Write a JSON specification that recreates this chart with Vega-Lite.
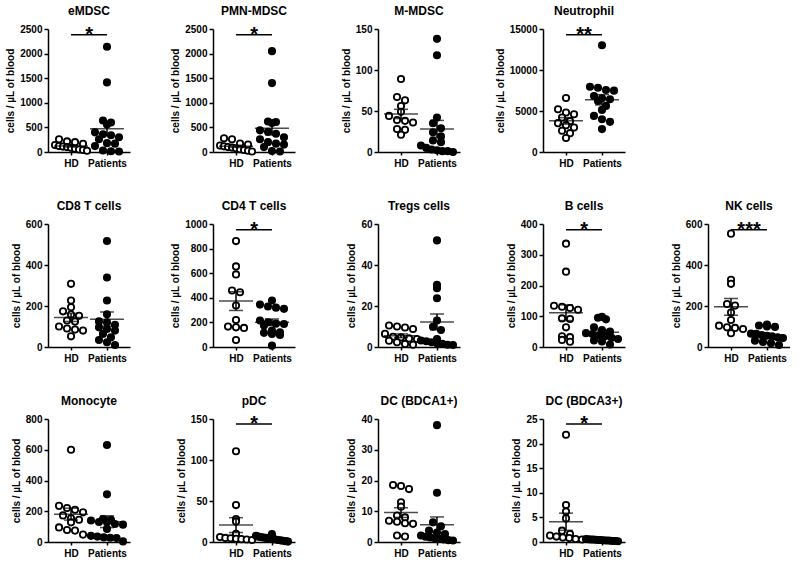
{
"$schema": "https://vega.github.io/schema/vega-lite/v6.json",
"padding": {"left": 5, "top": 5, "right": 0, "bottom": 0},
"bounds": "flush",
"columns": 5,
"spacing": {"row": 72, "column": 83},
"datasets": {
"rows": [
{"panel":"eMDSC","group":"HD","value":260},{"panel":"eMDSC","group":"HD","value":215},{"panel":"eMDSC","group":"HD","value":200},{"panel":"eMDSC","group":"HD","value":165},{"panel":"eMDSC","group":"HD","value":140},{"panel":"eMDSC","group":"HD","value":120},{"panel":"eMDSC","group":"HD","value":110},{"panel":"eMDSC","group":"HD","value":100},{"panel":"eMDSC","group":"HD","value":85},{"panel":"eMDSC","group":"HD","value":65},{"panel":"eMDSC","group":"HD","value":50},{"panel":"eMDSC","group":"HD","value":40},{"panel":"eMDSC","group":"HD","value":25},
{"panel":"eMDSC","group":"Patients","value":2140},{"panel":"eMDSC","group":"Patients","value":1415},{"panel":"eMDSC","group":"Patients","value":640},{"panel":"eMDSC","group":"Patients","value":600},{"panel":"eMDSC","group":"Patients","value":560},{"panel":"eMDSC","group":"Patients","value":400},{"panel":"eMDSC","group":"Patients","value":360},{"panel":"eMDSC","group":"Patients","value":340},{"panel":"eMDSC","group":"Patients","value":300},{"panel":"eMDSC","group":"Patients","value":260},{"panel":"eMDSC","group":"Patients","value":180},{"panel":"eMDSC","group":"Patients","value":170},{"panel":"eMDSC","group":"Patients","value":120},{"panel":"eMDSC","group":"Patients","value":30},{"panel":"eMDSC","group":"Patients","value":15},{"panel":"eMDSC","group":"Patients","value":10},
{"panel":"eMDSC","group":"HD","group2":"Patients","value":2385,"label":"*"},
{"panel":"PMN-MDSC","group":"HD","value":280},{"panel":"PMN-MDSC","group":"HD","value":260},{"panel":"PMN-MDSC","group":"HD","value":170},{"panel":"PMN-MDSC","group":"HD","value":150},{"panel":"PMN-MDSC","group":"HD","value":130},{"panel":"PMN-MDSC","group":"HD","value":115},{"panel":"PMN-MDSC","group":"HD","value":100},{"panel":"PMN-MDSC","group":"HD","value":90},{"panel":"PMN-MDSC","group":"HD","value":75},{"panel":"PMN-MDSC","group":"HD","value":55},{"panel":"PMN-MDSC","group":"HD","value":40},{"panel":"PMN-MDSC","group":"HD","value":25},{"panel":"PMN-MDSC","group":"HD","value":10},
{"panel":"PMN-MDSC","group":"Patients","value":2050},{"panel":"PMN-MDSC","group":"Patients","value":1400},{"panel":"PMN-MDSC","group":"Patients","value":620},{"panel":"PMN-MDSC","group":"Patients","value":610},{"panel":"PMN-MDSC","group":"Patients","value":590},{"panel":"PMN-MDSC","group":"Patients","value":440},{"panel":"PMN-MDSC","group":"Patients","value":410},{"panel":"PMN-MDSC","group":"Patients","value":370},{"panel":"PMN-MDSC","group":"Patients","value":300},{"panel":"PMN-MDSC","group":"Patients","value":260},{"panel":"PMN-MDSC","group":"Patients","value":200},{"panel":"PMN-MDSC","group":"Patients","value":170},{"panel":"PMN-MDSC","group":"Patients","value":150},{"panel":"PMN-MDSC","group":"Patients","value":100},{"panel":"PMN-MDSC","group":"Patients","value":20},{"panel":"PMN-MDSC","group":"Patients","value":10},
{"panel":"PMN-MDSC","group":"HD","group2":"Patients","value":2385,"label":"*"},
{"panel":"M-MDSC","group":"HD","value":89},{"panel":"M-MDSC","group":"HD","value":67},{"panel":"M-MDSC","group":"HD","value":63},{"panel":"M-MDSC","group":"HD","value":56},{"panel":"M-MDSC","group":"HD","value":49},{"panel":"M-MDSC","group":"HD","value":44},{"panel":"M-MDSC","group":"HD","value":39},{"panel":"M-MDSC","group":"HD","value":38},{"panel":"M-MDSC","group":"HD","value":36},{"panel":"M-MDSC","group":"HD","value":28},{"panel":"M-MDSC","group":"HD","value":27},{"panel":"M-MDSC","group":"HD","value":21},
{"panel":"M-MDSC","group":"Patients","value":138},{"panel":"M-MDSC","group":"Patients","value":118},{"panel":"M-MDSC","group":"Patients","value":42},{"panel":"M-MDSC","group":"Patients","value":35},{"panel":"M-MDSC","group":"Patients","value":29},{"panel":"M-MDSC","group":"Patients","value":24},{"panel":"M-MDSC","group":"Patients","value":19},{"panel":"M-MDSC","group":"Patients","value":14},{"panel":"M-MDSC","group":"Patients","value":12},{"panel":"M-MDSC","group":"Patients","value":8},{"panel":"M-MDSC","group":"Patients","value":5},{"panel":"M-MDSC","group":"Patients","value":3},{"panel":"M-MDSC","group":"Patients","value":2},{"panel":"M-MDSC","group":"Patients","value":1},{"panel":"M-MDSC","group":"Patients","value":1},{"panel":"M-MDSC","group":"Patients","value":0},
{"panel":"Neutrophil","group":"HD","value":6590},{"panel":"Neutrophil","group":"HD","value":5215},{"panel":"Neutrophil","group":"HD","value":4810},{"panel":"Neutrophil","group":"HD","value":4610},{"panel":"Neutrophil","group":"HD","value":4200},{"panel":"Neutrophil","group":"HD","value":3760},{"panel":"Neutrophil","group":"HD","value":3520},{"panel":"Neutrophil","group":"HD","value":3270},{"panel":"Neutrophil","group":"HD","value":2990},{"panel":"Neutrophil","group":"HD","value":2590},{"panel":"Neutrophil","group":"HD","value":2300},{"panel":"Neutrophil","group":"HD","value":1700},
{"panel":"Neutrophil","group":"Patients","value":13020},{"panel":"Neutrophil","group":"Patients","value":7965},{"panel":"Neutrophil","group":"Patients","value":7840},{"panel":"Neutrophil","group":"Patients","value":7560},{"panel":"Neutrophil","group":"Patients","value":7480},{"panel":"Neutrophil","group":"Patients","value":6830},{"panel":"Neutrophil","group":"Patients","value":6550},{"panel":"Neutrophil","group":"Patients","value":6430},{"panel":"Neutrophil","group":"Patients","value":6230},{"panel":"Neutrophil","group":"Patients","value":5620},{"panel":"Neutrophil","group":"Patients","value":5130},{"panel":"Neutrophil","group":"Patients","value":4400},{"panel":"Neutrophil","group":"Patients","value":4000},{"panel":"Neutrophil","group":"Patients","value":3680},{"panel":"Neutrophil","group":"Patients","value":2790},
{"panel":"Neutrophil","group":"HD","group2":"Patients","value":14300,"label":"**"},
{"panel":"CD8 T cells","group":"HD","value":308},{"panel":"CD8 T cells","group":"HD","value":227},{"panel":"CD8 T cells","group":"HD","value":194},{"panel":"CD8 T cells","group":"HD","value":174},{"panel":"CD8 T cells","group":"HD","value":158},{"panel":"CD8 T cells","group":"HD","value":152},{"panel":"CD8 T cells","group":"HD","value":129},{"panel":"CD8 T cells","group":"HD","value":124},{"panel":"CD8 T cells","group":"HD","value":100},{"panel":"CD8 T cells","group":"HD","value":90},{"panel":"CD8 T cells","group":"HD","value":85},{"panel":"CD8 T cells","group":"HD","value":80},{"panel":"CD8 T cells","group":"HD","value":52},
{"panel":"CD8 T cells","group":"Patients","value":517},{"panel":"CD8 T cells","group":"Patients","value":339},{"panel":"CD8 T cells","group":"Patients","value":227},{"panel":"CD8 T cells","group":"Patients","value":160},{"panel":"CD8 T cells","group":"Patients","value":125},{"panel":"CD8 T cells","group":"Patients","value":120},{"panel":"CD8 T cells","group":"Patients","value":108},{"panel":"CD8 T cells","group":"Patients","value":96},{"panel":"CD8 T cells","group":"Patients","value":88},{"panel":"CD8 T cells","group":"Patients","value":80},{"panel":"CD8 T cells","group":"Patients","value":64},{"panel":"CD8 T cells","group":"Patients","value":47},{"panel":"CD8 T cells","group":"Patients","value":34},{"panel":"CD8 T cells","group":"Patients","value":23},{"panel":"CD8 T cells","group":"Patients","value":10},
{"panel":"CD4 T cells","group":"HD","value":861},{"panel":"CD4 T cells","group":"HD","value":655},{"panel":"CD4 T cells","group":"HD","value":590},{"panel":"CD4 T cells","group":"HD","value":459},{"panel":"CD4 T cells","group":"HD","value":445},{"panel":"CD4 T cells","group":"HD","value":337},{"panel":"CD4 T cells","group":"HD","value":220},{"panel":"CD4 T cells","group":"HD","value":166},{"panel":"CD4 T cells","group":"HD","value":160},{"panel":"CD4 T cells","group":"HD","value":155},{"panel":"CD4 T cells","group":"HD","value":57},
{"panel":"CD4 T cells","group":"Patients","value":378},{"panel":"CD4 T cells","group":"Patients","value":345},{"panel":"CD4 T cells","group":"Patients","value":329},{"panel":"CD4 T cells","group":"Patients","value":320},{"panel":"CD4 T cells","group":"Patients","value":310},{"panel":"CD4 T cells","group":"Patients","value":215},{"panel":"CD4 T cells","group":"Patients","value":201},{"panel":"CD4 T cells","group":"Patients","value":190},{"panel":"CD4 T cells","group":"Patients","value":187},{"panel":"CD4 T cells","group":"Patients","value":174},{"panel":"CD4 T cells","group":"Patients","value":133},{"panel":"CD4 T cells","group":"Patients","value":120},{"panel":"CD4 T cells","group":"Patients","value":115},{"panel":"CD4 T cells","group":"Patients","value":106},{"panel":"CD4 T cells","group":"Patients","value":98},{"panel":"CD4 T cells","group":"Patients","value":11},
{"panel":"CD4 T cells","group":"HD","group2":"Patients","value":954,"label":"*"},
{"panel":"Tregs cells","group":"HD","value":10.5},{"panel":"Tregs cells","group":"HD","value":10},{"panel":"Tregs cells","group":"HD","value":9.5},{"panel":"Tregs cells","group":"HD","value":8.8},{"panel":"Tregs cells","group":"HD","value":6.4},{"panel":"Tregs cells","group":"HD","value":5},{"panel":"Tregs cells","group":"HD","value":4.7},{"panel":"Tregs cells","group":"HD","value":4.2},{"panel":"Tregs cells","group":"HD","value":3.9},{"panel":"Tregs cells","group":"HD","value":3.1},{"panel":"Tregs cells","group":"HD","value":2.3},{"panel":"Tregs cells","group":"HD","value":1.5},{"panel":"Tregs cells","group":"HD","value":1.1},
{"panel":"Tregs cells","group":"Patients","value":52},{"panel":"Tregs cells","group":"Patients","value":30.3},{"panel":"Tregs cells","group":"Patients","value":28.7},{"panel":"Tregs cells","group":"Patients","value":23.8},{"panel":"Tregs cells","group":"Patients","value":12.9},{"panel":"Tregs cells","group":"Patients","value":9.9},{"panel":"Tregs cells","group":"Patients","value":8.3},{"panel":"Tregs cells","group":"Patients","value":3.9},{"panel":"Tregs cells","group":"Patients","value":3.2},{"panel":"Tregs cells","group":"Patients","value":2.8},{"panel":"Tregs cells","group":"Patients","value":2.3},{"panel":"Tregs cells","group":"Patients","value":1.8},{"panel":"Tregs cells","group":"Patients","value":1.5},{"panel":"Tregs cells","group":"Patients","value":1.1},{"panel":"Tregs cells","group":"Patients","value":1.0},
{"panel":"B cells","group":"HD","value":336},{"panel":"B cells","group":"HD","value":245},{"panel":"B cells","group":"HD","value":134},{"panel":"B cells","group":"HD","value":131},{"panel":"B cells","group":"HD","value":127},{"panel":"B cells","group":"HD","value":121},{"panel":"B cells","group":"HD","value":93},{"panel":"B cells","group":"HD","value":91},{"panel":"B cells","group":"HD","value":64},{"panel":"B cells","group":"HD","value":35},{"panel":"B cells","group":"HD","value":32},{"panel":"B cells","group":"HD","value":23},{"panel":"B cells","group":"HD","value":17},
{"panel":"B cells","group":"Patients","value":98},{"panel":"B cells","group":"Patients","value":95},{"panel":"B cells","group":"Patients","value":90},{"panel":"B cells","group":"Patients","value":64},{"panel":"B cells","group":"Patients","value":55},{"panel":"B cells","group":"Patients","value":50},{"panel":"B cells","group":"Patients","value":45},{"panel":"B cells","group":"Patients","value":42},{"panel":"B cells","group":"Patients","value":38},{"panel":"B cells","group":"Patients","value":35},{"panel":"B cells","group":"Patients","value":30},{"panel":"B cells","group":"Patients","value":26},{"panel":"B cells","group":"Patients","value":21},{"panel":"B cells","group":"Patients","value":18},{"panel":"B cells","group":"Patients","value":8},
{"panel":"B cells","group":"HD","group2":"Patients","value":381,"label":"*"},
{"panel":"NK cells","group":"HD","value":553},{"panel":"NK cells","group":"HD","value":328},{"panel":"NK cells","group":"HD","value":308},{"panel":"NK cells","group":"HD","value":210},{"panel":"NK cells","group":"HD","value":202},{"panel":"NK cells","group":"HD","value":168},{"panel":"NK cells","group":"HD","value":132},{"panel":"NK cells","group":"HD","value":104},{"panel":"NK cells","group":"HD","value":96},{"panel":"NK cells","group":"HD","value":93},{"panel":"NK cells","group":"HD","value":88},{"panel":"NK cells","group":"HD","value":67},
{"panel":"NK cells","group":"Patients","value":110},{"panel":"NK cells","group":"Patients","value":105},{"panel":"NK cells","group":"Patients","value":100},{"panel":"NK cells","group":"Patients","value":98},{"panel":"NK cells","group":"Patients","value":65},{"panel":"NK cells","group":"Patients","value":64},{"panel":"NK cells","group":"Patients","value":58},{"panel":"NK cells","group":"Patients","value":55},{"panel":"NK cells","group":"Patients","value":51},{"panel":"NK cells","group":"Patients","value":47},{"panel":"NK cells","group":"Patients","value":44},{"panel":"NK cells","group":"Patients","value":31},{"panel":"NK cells","group":"Patients","value":25},{"panel":"NK cells","group":"Patients","value":18},{"panel":"NK cells","group":"Patients","value":10},
{"panel":"NK cells","group":"HD","group2":"Patients","value":572,"label":"***"},
{"panel":"Monocyte","group":"HD","value":600},{"panel":"Monocyte","group":"HD","value":235},{"panel":"Monocyte","group":"HD","value":221},{"panel":"Monocyte","group":"HD","value":210},{"panel":"Monocyte","group":"HD","value":193},{"panel":"Monocyte","group":"HD","value":173},{"panel":"Monocyte","group":"HD","value":154},{"panel":"Monocyte","group":"HD","value":145},{"panel":"Monocyte","group":"HD","value":128},{"panel":"Monocyte","group":"HD","value":95},{"panel":"Monocyte","group":"HD","value":78},{"panel":"Monocyte","group":"HD","value":74},{"panel":"Monocyte","group":"HD","value":48},
{"panel":"Monocyte","group":"Patients","value":631},{"panel":"Monocyte","group":"Patients","value":310},{"panel":"Monocyte","group":"Patients","value":150},{"panel":"Monocyte","group":"Patients","value":145},{"panel":"Monocyte","group":"Patients","value":140},{"panel":"Monocyte","group":"Patients","value":130},{"panel":"Monocyte","group":"Patients","value":128},{"panel":"Monocyte","group":"Patients","value":117},{"panel":"Monocyte","group":"Patients","value":113},{"panel":"Monocyte","group":"Patients","value":85},{"panel":"Monocyte","group":"Patients","value":40},{"panel":"Monocyte","group":"Patients","value":35},{"panel":"Monocyte","group":"Patients","value":30},{"panel":"Monocyte","group":"Patients","value":28},{"panel":"Monocyte","group":"Patients","value":26},{"panel":"Monocyte","group":"Patients","value":4},
{"panel":"pDC","group":"HD","value":110.6},{"panel":"pDC","group":"HD","value":45},{"panel":"pDC","group":"HD","value":28},{"panel":"pDC","group":"HD","value":25},{"panel":"pDC","group":"HD","value":10},{"panel":"pDC","group":"HD","value":6},{"panel":"pDC","group":"HD","value":5},{"panel":"pDC","group":"HD","value":4.5},{"panel":"pDC","group":"HD","value":4},{"panel":"pDC","group":"HD","value":3.5},{"panel":"pDC","group":"HD","value":3},{"panel":"pDC","group":"HD","value":2.5},
{"panel":"pDC","group":"Patients","value":9.8},{"panel":"pDC","group":"Patients","value":7.5},{"panel":"pDC","group":"Patients","value":6.5},{"panel":"pDC","group":"Patients","value":6},{"panel":"pDC","group":"Patients","value":5.5},{"panel":"pDC","group":"Patients","value":5},{"panel":"pDC","group":"Patients","value":4.5},{"panel":"pDC","group":"Patients","value":4},{"panel":"pDC","group":"Patients","value":3.5},{"panel":"pDC","group":"Patients","value":3},{"panel":"pDC","group":"Patients","value":2.5},{"panel":"pDC","group":"Patients","value":2},{"panel":"pDC","group":"Patients","value":1.5},{"panel":"pDC","group":"Patients","value":1},{"panel":"pDC","group":"Patients","value":0.5},
{"panel":"pDC","group":"HD","group2":"Patients","value":144,"label":"*"},
{"panel":"DC (BDCA1+)","group":"HD","value":18.5},{"panel":"DC (BDCA1+)","group":"HD","value":18.2},{"panel":"DC (BDCA1+)","group":"HD","value":17.2},{"panel":"DC (BDCA1+)","group":"HD","value":12.9},{"panel":"DC (BDCA1+)","group":"HD","value":11.5},{"panel":"DC (BDCA1+)","group":"HD","value":8.6},{"panel":"DC (BDCA1+)","group":"HD","value":8.0},{"panel":"DC (BDCA1+)","group":"HD","value":6.9},{"panel":"DC (BDCA1+)","group":"HD","value":6.6},{"panel":"DC (BDCA1+)","group":"HD","value":6.1},{"panel":"DC (BDCA1+)","group":"HD","value":5.9},{"panel":"DC (BDCA1+)","group":"HD","value":2.1},{"panel":"DC (BDCA1+)","group":"HD","value":1.8},
{"panel":"DC (BDCA1+)","group":"Patients","value":38},{"panel":"DC (BDCA1+)","group":"Patients","value":16},{"panel":"DC (BDCA1+)","group":"Patients","value":6.4},{"panel":"DC (BDCA1+)","group":"Patients","value":5.1},{"panel":"DC (BDCA1+)","group":"Patients","value":3.7},{"panel":"DC (BDCA1+)","group":"Patients","value":3.1},{"panel":"DC (BDCA1+)","group":"Patients","value":2.6},{"panel":"DC (BDCA1+)","group":"Patients","value":2.1},{"panel":"DC (BDCA1+)","group":"Patients","value":1.7},{"panel":"DC (BDCA1+)","group":"Patients","value":1.5},{"panel":"DC (BDCA1+)","group":"Patients","value":1.2},{"panel":"DC (BDCA1+)","group":"Patients","value":1.0},{"panel":"DC (BDCA1+)","group":"Patients","value":0.8},{"panel":"DC (BDCA1+)","group":"Patients","value":0.6},{"panel":"DC (BDCA1+)","group":"Patients","value":0.5},
{"panel":"DC (BDCA3+)","group":"HD","value":21.8},{"panel":"DC (BDCA3+)","group":"HD","value":7.5},{"panel":"DC (BDCA3+)","group":"HD","value":6.2},{"panel":"DC (BDCA3+)","group":"HD","value":4.8},{"panel":"DC (BDCA3+)","group":"HD","value":2.3},{"panel":"DC (BDCA3+)","group":"HD","value":1.6},{"panel":"DC (BDCA3+)","group":"HD","value":1.3},{"panel":"DC (BDCA3+)","group":"HD","value":1.1},{"panel":"DC (BDCA3+)","group":"HD","value":0.9},{"panel":"DC (BDCA3+)","group":"HD","value":0.8},{"panel":"DC (BDCA3+)","group":"HD","value":0.6},{"panel":"DC (BDCA3+)","group":"HD","value":0.5},
{"panel":"DC (BDCA3+)","group":"Patients","value":0.6},{"panel":"DC (BDCA3+)","group":"Patients","value":0.55},{"panel":"DC (BDCA3+)","group":"Patients","value":0.5},{"panel":"DC (BDCA3+)","group":"Patients","value":0.5},{"panel":"DC (BDCA3+)","group":"Patients","value":0.45},{"panel":"DC (BDCA3+)","group":"Patients","value":0.4},{"panel":"DC (BDCA3+)","group":"Patients","value":0.4},{"panel":"DC (BDCA3+)","group":"Patients","value":0.35},{"panel":"DC (BDCA3+)","group":"Patients","value":0.3},{"panel":"DC (BDCA3+)","group":"Patients","value":0.3},{"panel":"DC (BDCA3+)","group":"Patients","value":0.25},{"panel":"DC (BDCA3+)","group":"Patients","value":0.2},{"panel":"DC (BDCA3+)","group":"Patients","value":0.2},{"panel":"DC (BDCA3+)","group":"Patients","value":0.15},
{"panel":"DC (BDCA3+)","group":"HD","group2":"Patients","value":24,"label":"*"}
]
},
"concat": [
{"title":"eMDSC","width":82,"height":123,"data":{"name":"rows"},"transform":[{"filter":{"field":"panel","equal":"eMDSC"}}],
 "encoding":{"x":{"field":"group","type":"nominal","scale":{"type":"point","domain":["HD","Patients"],"padding":0.64},"title":null},"y":{"field":"value","type":"quantitative","scale":{"domain":[0,2500]},"axis":{"values":[0,500,1000,1500,2000,2500]},"title":"cells / µL of blood"}},
 "layer":[
  {"transform":[{"filter":"!datum.label"},{"calculate":"floor(datum.value / 150)","as":"b"},{"window":[{"op":"row_number","as":"rn"},{"op":"count","as":"cnt"}],"groupby":["group","b"],"frame":[null,null]},{"calculate":"(datum.rn - (datum.cnt + 1) / 2) * min(8, 32 / max(datum.cnt - 1, 1))","as":"off"}],"mark":{"type":"circle","size":40,"stroke":"black","strokeWidth":1.8,"opacity":1},"encoding":{"xOffset":{"field":"off","type":"quantitative","scale":null},"fill":{"field":"group","type":"nominal","scale":{"domain":["HD","Patients"],"range":["white","black"]},"legend":null}}},
  {"transform":[{"filter":"!datum.label"},{"aggregate":[{"op":"mean","field":"value","as":"value"}],"groupby":["group"]}],"mark":{"type":"tick","color":"black","thickness":1.5,"size":34}},
  {"transform":[{"filter":"!datum.label"}],"mark":{"type":"errorbar","extent":"stderr","color":"black","thickness":1.5,"ticks":{"size":14}}},
  {"transform":[{"filter":"datum.label"}],"mark":{"type":"rule","color":"black","strokeWidth":1.5},"encoding":{"x2":{"field":"group2"}}},
  {"transform":[{"filter":"datum.label"}],"mark":{"type":"text","dx":18,"dy":6,"fontSize":20,"fontWeight":"bold","baseline":"alphabetic","color":"black","font":"Liberation Sans"},"encoding":{"text":{"field":"label"}}}
 ]},
{"title":"PMN-MDSC","width":82,"height":123,"data":{"name":"rows"},"transform":[{"filter":{"field":"panel","equal":"PMN-MDSC"}}],
 "encoding":{"x":{"field":"group","type":"nominal","scale":{"type":"point","domain":["HD","Patients"],"padding":0.64},"title":null},"y":{"field":"value","type":"quantitative","scale":{"domain":[0,2500]},"axis":{"values":[0,500,1000,1500,2000,2500]},"title":"cells / µL of blood"}},
 "layer":[
  {"transform":[{"filter":"!datum.label"},{"calculate":"floor(datum.value / 150)","as":"b"},{"window":[{"op":"row_number","as":"rn"},{"op":"count","as":"cnt"}],"groupby":["group","b"],"frame":[null,null]},{"calculate":"(datum.rn - (datum.cnt + 1) / 2) * min(8, 32 / max(datum.cnt - 1, 1))","as":"off"}],"mark":{"type":"circle","size":40,"stroke":"black","strokeWidth":1.8,"opacity":1},"encoding":{"xOffset":{"field":"off","type":"quantitative","scale":null},"fill":{"field":"group","type":"nominal","scale":{"domain":["HD","Patients"],"range":["white","black"]},"legend":null}}},
  {"transform":[{"filter":"!datum.label"},{"aggregate":[{"op":"mean","field":"value","as":"value"}],"groupby":["group"]}],"mark":{"type":"tick","color":"black","thickness":1.5,"size":34}},
  {"transform":[{"filter":"!datum.label"}],"mark":{"type":"errorbar","extent":"stderr","color":"black","thickness":1.5,"ticks":{"size":14}}},
  {"transform":[{"filter":"datum.label"}],"mark":{"type":"rule","color":"black","strokeWidth":1.5},"encoding":{"x2":{"field":"group2"}}},
  {"transform":[{"filter":"datum.label"}],"mark":{"type":"text","dx":18,"dy":6,"fontSize":20,"fontWeight":"bold","baseline":"alphabetic","color":"black","font":"Liberation Sans"},"encoding":{"text":{"field":"label"}}}
 ]},
{"title":"M-MDSC","width":82,"height":123,"data":{"name":"rows"},"transform":[{"filter":{"field":"panel","equal":"M-MDSC"}}],
 "encoding":{"x":{"field":"group","type":"nominal","scale":{"type":"point","domain":["HD","Patients"],"padding":0.64},"title":null},"y":{"field":"value","type":"quantitative","scale":{"domain":[0,150]},"axis":{"values":[0,50,100,150]},"title":"cells / µL of blood"}},
 "layer":[
  {"transform":[{"filter":"!datum.label"},{"calculate":"floor(datum.value / 9)","as":"b"},{"window":[{"op":"row_number","as":"rn"},{"op":"count","as":"cnt"}],"groupby":["group","b"],"frame":[null,null]},{"calculate":"(datum.rn - (datum.cnt + 1) / 2) * min(8, 32 / max(datum.cnt - 1, 1))","as":"off"}],"mark":{"type":"circle","size":40,"stroke":"black","strokeWidth":1.8,"opacity":1},"encoding":{"xOffset":{"field":"off","type":"quantitative","scale":null},"fill":{"field":"group","type":"nominal","scale":{"domain":["HD","Patients"],"range":["white","black"]},"legend":null}}},
  {"transform":[{"filter":"!datum.label"},{"aggregate":[{"op":"mean","field":"value","as":"value"}],"groupby":["group"]}],"mark":{"type":"tick","color":"black","thickness":1.5,"size":34}},
  {"transform":[{"filter":"!datum.label"}],"mark":{"type":"errorbar","extent":"stderr","color":"black","thickness":1.5,"ticks":{"size":14}}}
 ]},
{"title":"Neutrophil","width":82,"height":123,"data":{"name":"rows"},"transform":[{"filter":{"field":"panel","equal":"Neutrophil"}}],
 "encoding":{"x":{"field":"group","type":"nominal","scale":{"type":"point","domain":["HD","Patients"],"padding":0.64},"title":null},"y":{"field":"value","type":"quantitative","scale":{"domain":[0,15000]},"axis":{"values":[0,5000,10000,15000]},"title":"cells / µL of blood"}},
 "layer":[
  {"transform":[{"filter":"!datum.label"},{"calculate":"floor(datum.value / 900)","as":"b"},{"window":[{"op":"row_number","as":"rn"},{"op":"count","as":"cnt"}],"groupby":["group","b"],"frame":[null,null]},{"calculate":"(datum.rn - (datum.cnt + 1) / 2) * min(8, 32 / max(datum.cnt - 1, 1))","as":"off"}],"mark":{"type":"circle","size":40,"stroke":"black","strokeWidth":1.8,"opacity":1},"encoding":{"xOffset":{"field":"off","type":"quantitative","scale":null},"fill":{"field":"group","type":"nominal","scale":{"domain":["HD","Patients"],"range":["white","black"]},"legend":null}}},
  {"transform":[{"filter":"!datum.label"},{"aggregate":[{"op":"mean","field":"value","as":"value"}],"groupby":["group"]}],"mark":{"type":"tick","color":"black","thickness":1.5,"size":34}},
  {"transform":[{"filter":"!datum.label"}],"mark":{"type":"errorbar","extent":"stderr","color":"black","thickness":1.5,"ticks":{"size":14}}},
  {"transform":[{"filter":"datum.label"}],"mark":{"type":"rule","color":"black","strokeWidth":1.5},"encoding":{"x2":{"field":"group2"}}},
  {"transform":[{"filter":"datum.label"}],"mark":{"type":"text","dx":18,"dy":6,"fontSize":20,"fontWeight":"bold","baseline":"alphabetic","color":"black","font":"Liberation Sans"},"encoding":{"text":{"field":"label"}}}
 ]},
{"width":82,"height":123,"data":{"values":[]},"mark":"point","encoding":{}},
{"title":"CD8 T cells","width":82,"height":123,"data":{"name":"rows"},"transform":[{"filter":{"field":"panel","equal":"CD8 T cells"}}],
 "encoding":{"x":{"field":"group","type":"nominal","scale":{"type":"point","domain":["HD","Patients"],"padding":0.64},"title":null},"y":{"field":"value","type":"quantitative","scale":{"domain":[0,600]},"axis":{"values":[0,200,400,600]},"title":"cells / µL of blood"}},
 "layer":[
  {"transform":[{"filter":"!datum.label"},{"calculate":"floor(datum.value / 36)","as":"b"},{"window":[{"op":"row_number","as":"rn"},{"op":"count","as":"cnt"}],"groupby":["group","b"],"frame":[null,null]},{"calculate":"(datum.rn - (datum.cnt + 1) / 2) * min(8, 32 / max(datum.cnt - 1, 1))","as":"off"}],"mark":{"type":"circle","size":40,"stroke":"black","strokeWidth":1.8,"opacity":1},"encoding":{"xOffset":{"field":"off","type":"quantitative","scale":null},"fill":{"field":"group","type":"nominal","scale":{"domain":["HD","Patients"],"range":["white","black"]},"legend":null}}},
  {"transform":[{"filter":"!datum.label"},{"aggregate":[{"op":"mean","field":"value","as":"value"}],"groupby":["group"]}],"mark":{"type":"tick","color":"black","thickness":1.5,"size":34}},
  {"transform":[{"filter":"!datum.label"}],"mark":{"type":"errorbar","extent":"stderr","color":"black","thickness":1.5,"ticks":{"size":14}}}
 ]},
{"title":"CD4 T cells","width":82,"height":123,"data":{"name":"rows"},"transform":[{"filter":{"field":"panel","equal":"CD4 T cells"}}],
 "encoding":{"x":{"field":"group","type":"nominal","scale":{"type":"point","domain":["HD","Patients"],"padding":0.64},"title":null},"y":{"field":"value","type":"quantitative","scale":{"domain":[0,1000]},"axis":{"values":[0,200,400,600,800,1000]},"title":"cells / µL of blood"}},
 "layer":[
  {"transform":[{"filter":"!datum.label"},{"calculate":"floor(datum.value / 60)","as":"b"},{"window":[{"op":"row_number","as":"rn"},{"op":"count","as":"cnt"}],"groupby":["group","b"],"frame":[null,null]},{"calculate":"(datum.rn - (datum.cnt + 1) / 2) * min(8, 32 / max(datum.cnt - 1, 1))","as":"off"}],"mark":{"type":"circle","size":40,"stroke":"black","strokeWidth":1.8,"opacity":1},"encoding":{"xOffset":{"field":"off","type":"quantitative","scale":null},"fill":{"field":"group","type":"nominal","scale":{"domain":["HD","Patients"],"range":["white","black"]},"legend":null}}},
  {"transform":[{"filter":"!datum.label"},{"aggregate":[{"op":"mean","field":"value","as":"value"}],"groupby":["group"]}],"mark":{"type":"tick","color":"black","thickness":1.5,"size":34}},
  {"transform":[{"filter":"!datum.label"}],"mark":{"type":"errorbar","extent":"stderr","color":"black","thickness":1.5,"ticks":{"size":14}}},
  {"transform":[{"filter":"datum.label"}],"mark":{"type":"rule","color":"black","strokeWidth":1.5},"encoding":{"x2":{"field":"group2"}}},
  {"transform":[{"filter":"datum.label"}],"mark":{"type":"text","dx":18,"dy":6,"fontSize":20,"fontWeight":"bold","baseline":"alphabetic","color":"black","font":"Liberation Sans"},"encoding":{"text":{"field":"label"}}}
 ]},
{"title":"Tregs cells","width":82,"height":123,"data":{"name":"rows"},"transform":[{"filter":{"field":"panel","equal":"Tregs cells"}}],
 "encoding":{"x":{"field":"group","type":"nominal","scale":{"type":"point","domain":["HD","Patients"],"padding":0.64},"title":null},"y":{"field":"value","type":"quantitative","scale":{"domain":[0,60]},"axis":{"values":[0,20,40,60]},"title":"cells / µL of blood"}},
 "layer":[
  {"transform":[{"filter":"!datum.label"},{"calculate":"floor(datum.value / 3.6)","as":"b"},{"window":[{"op":"row_number","as":"rn"},{"op":"count","as":"cnt"}],"groupby":["group","b"],"frame":[null,null]},{"calculate":"(datum.rn - (datum.cnt + 1) / 2) * min(8, 32 / max(datum.cnt - 1, 1))","as":"off"}],"mark":{"type":"circle","size":40,"stroke":"black","strokeWidth":1.8,"opacity":1},"encoding":{"xOffset":{"field":"off","type":"quantitative","scale":null},"fill":{"field":"group","type":"nominal","scale":{"domain":["HD","Patients"],"range":["white","black"]},"legend":null}}},
  {"transform":[{"filter":"!datum.label"},{"aggregate":[{"op":"mean","field":"value","as":"value"}],"groupby":["group"]}],"mark":{"type":"tick","color":"black","thickness":1.5,"size":34}},
  {"transform":[{"filter":"!datum.label"}],"mark":{"type":"errorbar","extent":"stderr","color":"black","thickness":1.5,"ticks":{"size":14}}}
 ]},
{"title":"B cells","width":82,"height":123,"data":{"name":"rows"},"transform":[{"filter":{"field":"panel","equal":"B cells"}}],
 "encoding":{"x":{"field":"group","type":"nominal","scale":{"type":"point","domain":["HD","Patients"],"padding":0.64},"title":null},"y":{"field":"value","type":"quantitative","scale":{"domain":[0,400]},"axis":{"values":[0,100,200,300,400]},"title":"cells / µL of blood"}},
 "layer":[
  {"transform":[{"filter":"!datum.label"},{"calculate":"floor(datum.value / 24)","as":"b"},{"window":[{"op":"row_number","as":"rn"},{"op":"count","as":"cnt"}],"groupby":["group","b"],"frame":[null,null]},{"calculate":"(datum.rn - (datum.cnt + 1) / 2) * min(8, 32 / max(datum.cnt - 1, 1))","as":"off"}],"mark":{"type":"circle","size":40,"stroke":"black","strokeWidth":1.8,"opacity":1},"encoding":{"xOffset":{"field":"off","type":"quantitative","scale":null},"fill":{"field":"group","type":"nominal","scale":{"domain":["HD","Patients"],"range":["white","black"]},"legend":null}}},
  {"transform":[{"filter":"!datum.label"},{"aggregate":[{"op":"mean","field":"value","as":"value"}],"groupby":["group"]}],"mark":{"type":"tick","color":"black","thickness":1.5,"size":34}},
  {"transform":[{"filter":"!datum.label"}],"mark":{"type":"errorbar","extent":"stderr","color":"black","thickness":1.5,"ticks":{"size":14}}},
  {"transform":[{"filter":"datum.label"}],"mark":{"type":"rule","color":"black","strokeWidth":1.5},"encoding":{"x2":{"field":"group2"}}},
  {"transform":[{"filter":"datum.label"}],"mark":{"type":"text","dx":18,"dy":6,"fontSize":20,"fontWeight":"bold","baseline":"alphabetic","color":"black","font":"Liberation Sans"},"encoding":{"text":{"field":"label"}}}
 ]},
{"title":"NK cells","width":82,"height":123,"data":{"name":"rows"},"transform":[{"filter":{"field":"panel","equal":"NK cells"}}],
 "encoding":{"x":{"field":"group","type":"nominal","scale":{"type":"point","domain":["HD","Patients"],"padding":0.64},"title":null},"y":{"field":"value","type":"quantitative","scale":{"domain":[0,600]},"axis":{"values":[0,200,400,600]},"title":"cells / µL of blood"}},
 "layer":[
  {"transform":[{"filter":"!datum.label"},{"calculate":"floor(datum.value / 36)","as":"b"},{"window":[{"op":"row_number","as":"rn"},{"op":"count","as":"cnt"}],"groupby":["group","b"],"frame":[null,null]},{"calculate":"(datum.rn - (datum.cnt + 1) / 2) * min(8, 32 / max(datum.cnt - 1, 1))","as":"off"}],"mark":{"type":"circle","size":40,"stroke":"black","strokeWidth":1.8,"opacity":1},"encoding":{"xOffset":{"field":"off","type":"quantitative","scale":null},"fill":{"field":"group","type":"nominal","scale":{"domain":["HD","Patients"],"range":["white","black"]},"legend":null}}},
  {"transform":[{"filter":"!datum.label"},{"aggregate":[{"op":"mean","field":"value","as":"value"}],"groupby":["group"]}],"mark":{"type":"tick","color":"black","thickness":1.5,"size":34}},
  {"transform":[{"filter":"!datum.label"}],"mark":{"type":"errorbar","extent":"stderr","color":"black","thickness":1.5,"ticks":{"size":14}}},
  {"transform":[{"filter":"datum.label"}],"mark":{"type":"rule","color":"black","strokeWidth":1.5},"encoding":{"x2":{"field":"group2"}}},
  {"transform":[{"filter":"datum.label"}],"mark":{"type":"text","dx":18,"dy":6,"fontSize":20,"fontWeight":"bold","baseline":"alphabetic","color":"black","font":"Liberation Sans"},"encoding":{"text":{"field":"label"}}}
 ]},
{"title":"Monocyte","width":82,"height":123,"data":{"name":"rows"},"transform":[{"filter":{"field":"panel","equal":"Monocyte"}}],
 "encoding":{"x":{"field":"group","type":"nominal","scale":{"type":"point","domain":["HD","Patients"],"padding":0.64},"title":null},"y":{"field":"value","type":"quantitative","scale":{"domain":[0,800]},"axis":{"values":[0,200,400,600,800]},"title":"cells / µL of blood"}},
 "layer":[
  {"transform":[{"filter":"!datum.label"},{"calculate":"floor(datum.value / 48)","as":"b"},{"window":[{"op":"row_number","as":"rn"},{"op":"count","as":"cnt"}],"groupby":["group","b"],"frame":[null,null]},{"calculate":"(datum.rn - (datum.cnt + 1) / 2) * min(8, 32 / max(datum.cnt - 1, 1))","as":"off"}],"mark":{"type":"circle","size":40,"stroke":"black","strokeWidth":1.8,"opacity":1},"encoding":{"xOffset":{"field":"off","type":"quantitative","scale":null},"fill":{"field":"group","type":"nominal","scale":{"domain":["HD","Patients"],"range":["white","black"]},"legend":null}}},
  {"transform":[{"filter":"!datum.label"},{"aggregate":[{"op":"mean","field":"value","as":"value"}],"groupby":["group"]}],"mark":{"type":"tick","color":"black","thickness":1.5,"size":34}},
  {"transform":[{"filter":"!datum.label"}],"mark":{"type":"errorbar","extent":"stderr","color":"black","thickness":1.5,"ticks":{"size":14}}}
 ]},
{"title":"pDC","width":82,"height":123,"data":{"name":"rows"},"transform":[{"filter":{"field":"panel","equal":"pDC"}}],
 "encoding":{"x":{"field":"group","type":"nominal","scale":{"type":"point","domain":["HD","Patients"],"padding":0.64},"title":null},"y":{"field":"value","type":"quantitative","scale":{"domain":[0,150]},"axis":{"values":[0,50,100,150]},"title":"cells / µL of blood"}},
 "layer":[
  {"transform":[{"filter":"!datum.label"},{"calculate":"floor(datum.value / 9)","as":"b"},{"window":[{"op":"row_number","as":"rn"},{"op":"count","as":"cnt"}],"groupby":["group","b"],"frame":[null,null]},{"calculate":"(datum.rn - (datum.cnt + 1) / 2) * min(8, 32 / max(datum.cnt - 1, 1))","as":"off"}],"mark":{"type":"circle","size":40,"stroke":"black","strokeWidth":1.8,"opacity":1},"encoding":{"xOffset":{"field":"off","type":"quantitative","scale":null},"fill":{"field":"group","type":"nominal","scale":{"domain":["HD","Patients"],"range":["white","black"]},"legend":null}}},
  {"transform":[{"filter":"!datum.label"},{"aggregate":[{"op":"mean","field":"value","as":"value"}],"groupby":["group"]}],"mark":{"type":"tick","color":"black","thickness":1.5,"size":34}},
  {"transform":[{"filter":"!datum.label"}],"mark":{"type":"errorbar","extent":"stderr","color":"black","thickness":1.5,"ticks":{"size":14}}},
  {"transform":[{"filter":"datum.label"}],"mark":{"type":"rule","color":"black","strokeWidth":1.5},"encoding":{"x2":{"field":"group2"}}},
  {"transform":[{"filter":"datum.label"}],"mark":{"type":"text","dx":18,"dy":6,"fontSize":20,"fontWeight":"bold","baseline":"alphabetic","color":"black","font":"Liberation Sans"},"encoding":{"text":{"field":"label"}}}
 ]},
{"title":"DC (BDCA1+)","width":82,"height":123,"data":{"name":"rows"},"transform":[{"filter":{"field":"panel","equal":"DC (BDCA1+)"}}],
 "encoding":{"x":{"field":"group","type":"nominal","scale":{"type":"point","domain":["HD","Patients"],"padding":0.64},"title":null},"y":{"field":"value","type":"quantitative","scale":{"domain":[0,40]},"axis":{"values":[0,10,20,30,40]},"title":"cells / µL of blood"}},
 "layer":[
  {"transform":[{"filter":"!datum.label"},{"calculate":"floor(datum.value / 2.4)","as":"b"},{"window":[{"op":"row_number","as":"rn"},{"op":"count","as":"cnt"}],"groupby":["group","b"],"frame":[null,null]},{"calculate":"(datum.rn - (datum.cnt + 1) / 2) * min(8, 32 / max(datum.cnt - 1, 1))","as":"off"}],"mark":{"type":"circle","size":40,"stroke":"black","strokeWidth":1.8,"opacity":1},"encoding":{"xOffset":{"field":"off","type":"quantitative","scale":null},"fill":{"field":"group","type":"nominal","scale":{"domain":["HD","Patients"],"range":["white","black"]},"legend":null}}},
  {"transform":[{"filter":"!datum.label"},{"aggregate":[{"op":"mean","field":"value","as":"value"}],"groupby":["group"]}],"mark":{"type":"tick","color":"black","thickness":1.5,"size":34}},
  {"transform":[{"filter":"!datum.label"}],"mark":{"type":"errorbar","extent":"stderr","color":"black","thickness":1.5,"ticks":{"size":14}}}
 ]},
{"title":"DC (BDCA3+)","width":82,"height":123,"data":{"name":"rows"},"transform":[{"filter":{"field":"panel","equal":"DC (BDCA3+)"}}],
 "encoding":{"x":{"field":"group","type":"nominal","scale":{"type":"point","domain":["HD","Patients"],"padding":0.64},"title":null},"y":{"field":"value","type":"quantitative","scale":{"domain":[0,25]},"axis":{"values":[0,5,10,15,20,25]},"title":"cells / µL of blood"}},
 "layer":[
  {"transform":[{"filter":"!datum.label"},{"calculate":"floor(datum.value / 1.5)","as":"b"},{"window":[{"op":"row_number","as":"rn"},{"op":"count","as":"cnt"}],"groupby":["group","b"],"frame":[null,null]},{"calculate":"(datum.rn - (datum.cnt + 1) / 2) * min(8, 32 / max(datum.cnt - 1, 1))","as":"off"}],"mark":{"type":"circle","size":40,"stroke":"black","strokeWidth":1.8,"opacity":1},"encoding":{"xOffset":{"field":"off","type":"quantitative","scale":null},"fill":{"field":"group","type":"nominal","scale":{"domain":["HD","Patients"],"range":["white","black"]},"legend":null}}},
  {"transform":[{"filter":"!datum.label"},{"aggregate":[{"op":"mean","field":"value","as":"value"}],"groupby":["group"]}],"mark":{"type":"tick","color":"black","thickness":1.5,"size":34}},
  {"transform":[{"filter":"!datum.label"}],"mark":{"type":"errorbar","extent":"stderr","color":"black","thickness":1.5,"ticks":{"size":14}}},
  {"transform":[{"filter":"datum.label"}],"mark":{"type":"rule","color":"black","strokeWidth":1.5},"encoding":{"x2":{"field":"group2"}}},
  {"transform":[{"filter":"datum.label"}],"mark":{"type":"text","dx":18,"dy":6,"fontSize":20,"fontWeight":"bold","baseline":"alphabetic","color":"black","font":"Liberation Sans"},"encoding":{"text":{"field":"label"}}}
 ]}
],
"config": {
 "view": {"stroke": null},
 "font": "Liberation Sans",
 "axis": {"grid": false, "domainColor": "black", "domainWidth": 1.5, "tickColor": "black", "tickWidth": 1.5, "tickSize": 4, "labelFont": "Liberation Sans", "labelFontSize": 10, "labelFontWeight": "bold", "labelColor": "black", "titleFont": "Liberation Sans", "titleFontSize": 10, "titleFontWeight": "bold", "titleColor": "black", "labelPadding": 2, "titlePadding": 4},
 "axisY": {"format": "d"},
 "axisX": {"labelAngle": 0, "tickSize": 3, "labelPadding": 3},
 "title": {"font": "Liberation Sans", "fontSize": 12, "fontWeight": "bold", "color": "black", "anchor": "middle", "frame": "group", "offset": 6}
}
}
